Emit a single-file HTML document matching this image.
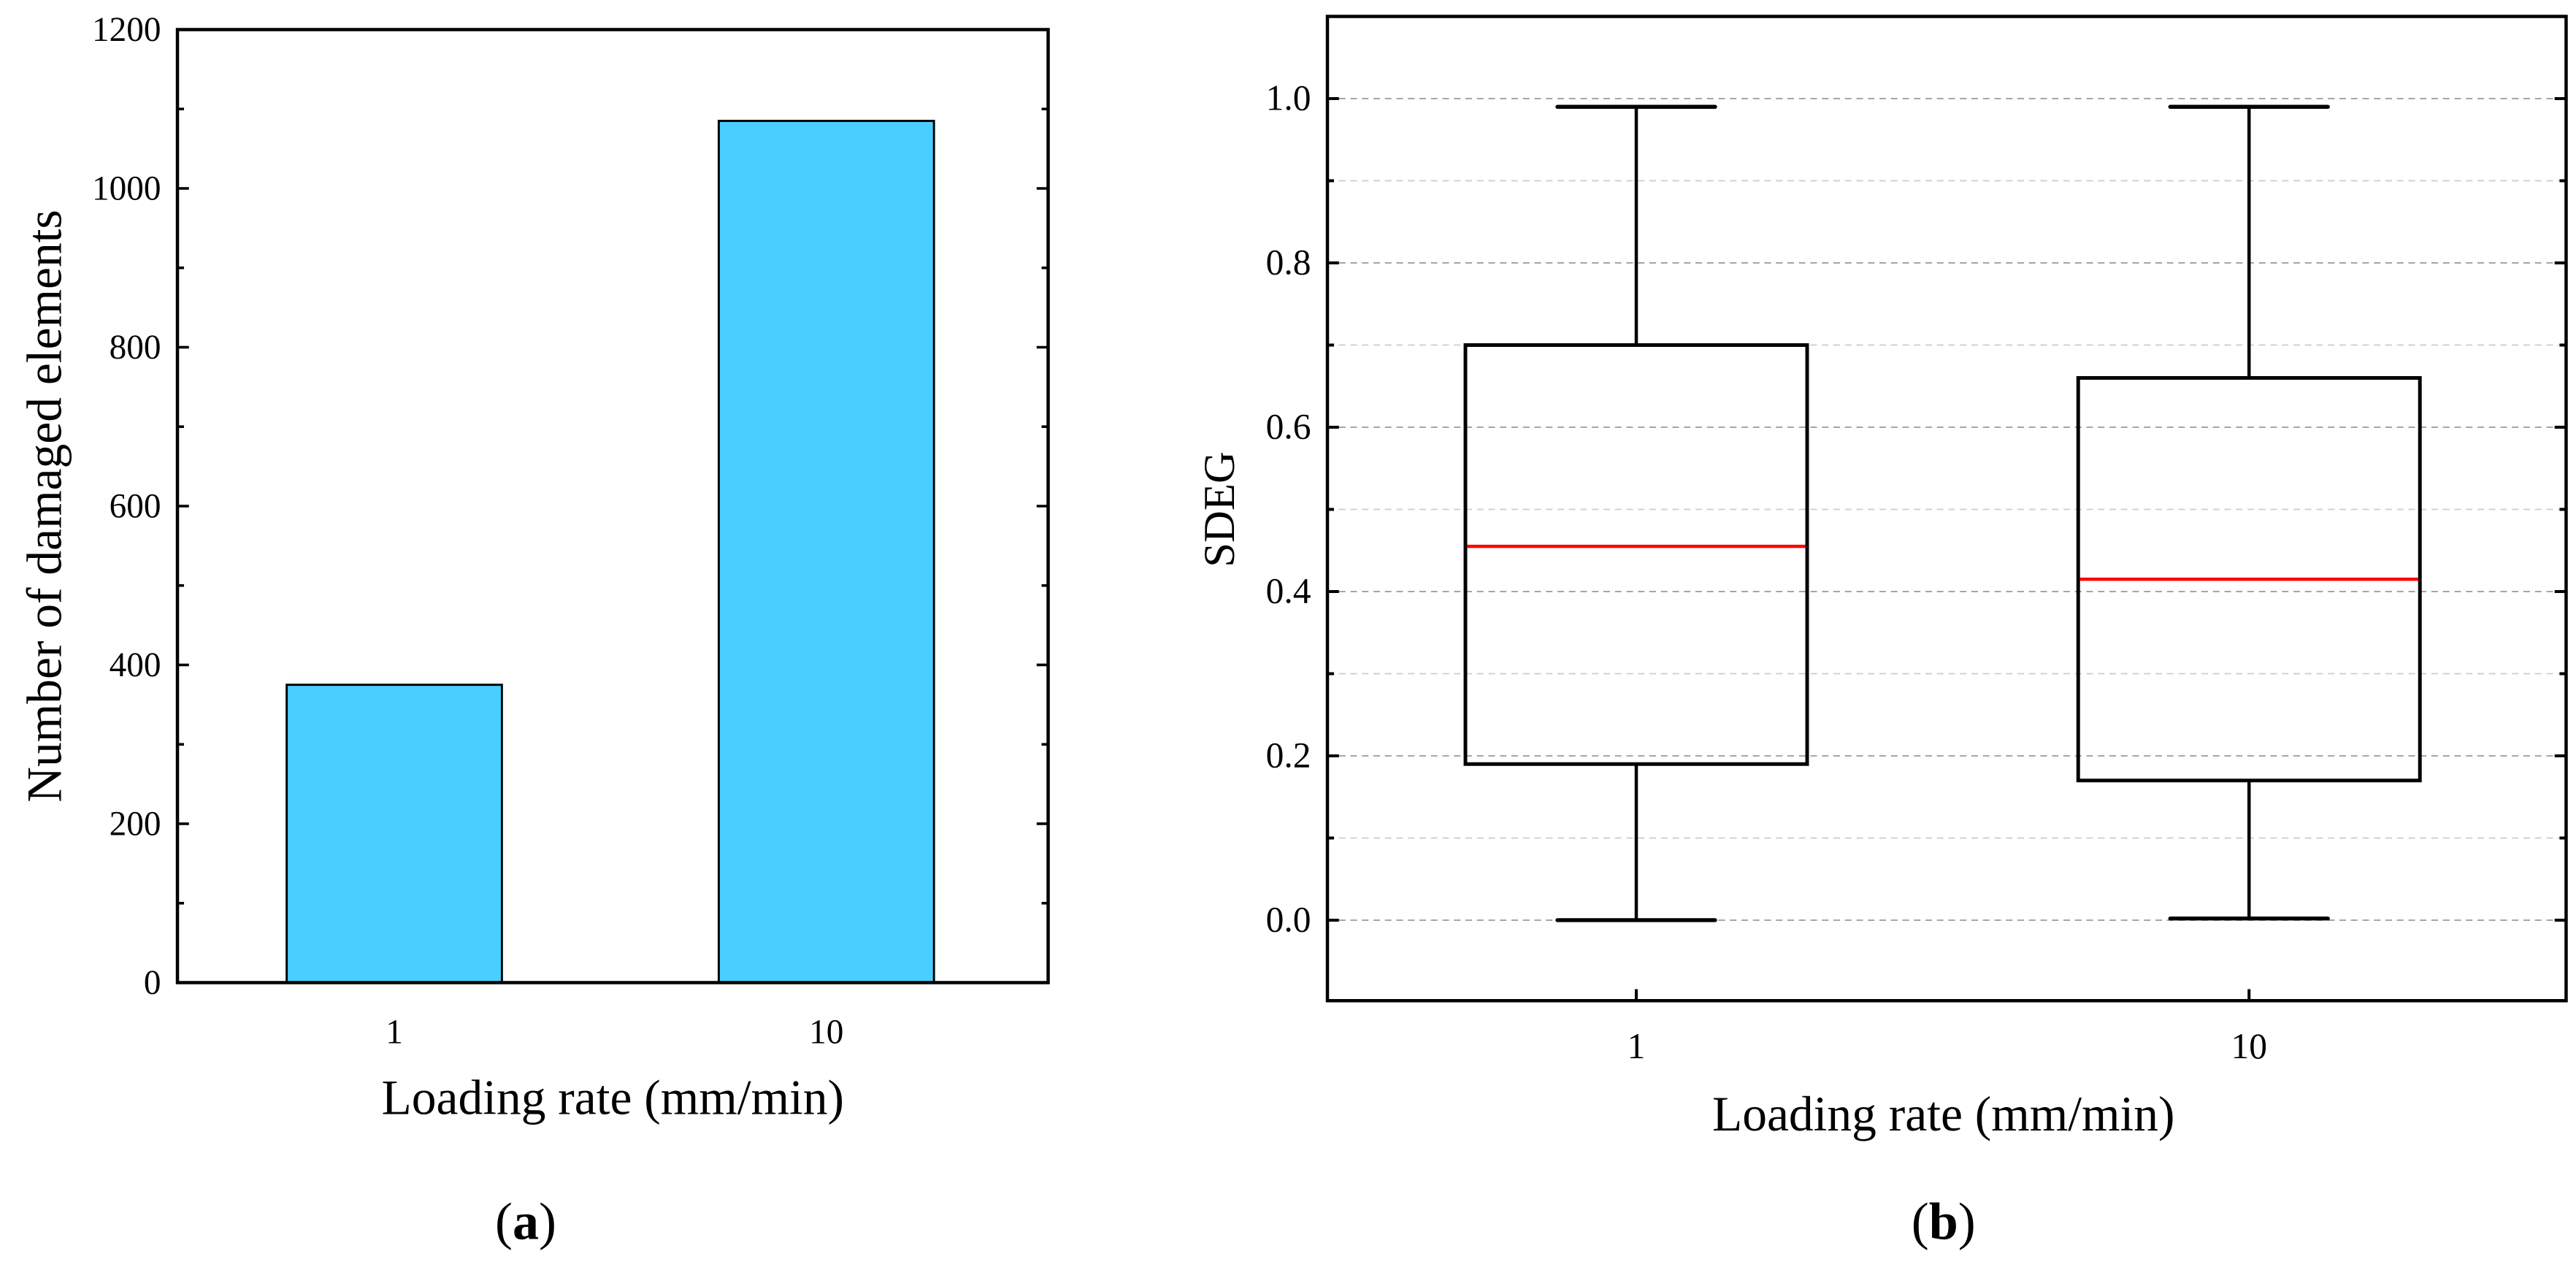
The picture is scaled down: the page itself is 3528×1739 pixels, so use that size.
<!DOCTYPE html>
<html><head><meta charset="utf-8"><style>
html,body{margin:0;padding:0;background:#fff}
svg{display:block}
text{font-family:"Liberation Serif",serif;fill:#000}
</style></head><body>
<svg id="fig" width="3528" height="1739" viewBox="0 0 1568 772.9" xmlns="http://www.w3.org/2000/svg">
<g id="a"></g>
<g id="b"></g>
</svg>
<script>
const barCategories = ["1", "10"];
const barValues = [375, 1085];
const barYTicks = [0, 200, 400, 600, 800, 1000, 1200];
const boxCategories = ["1", "10"];
const boxMin = [0.0, 0.002];
const boxQ1 = [0.19, 0.17];
const boxMedian = [0.455, 0.415];
const boxQ3 = [0.70, 0.66];
const boxMax = [0.99, 0.99];
const boxYTicks = ["0.0", "0.2", "0.4", "0.6", "0.8", "1.0"];

const NS = "http://www.w3.org/2000/svg";
function mk(parent, tag, attrs, txt) {
  const e = document.createElementNS(NS, tag);
  for (const k in attrs) e.setAttribute(k, attrs[k]);
  if (txt !== undefined) e.textContent = txt;
  parent.appendChild(e);
  return e;
}
// Panel A
const A = document.getElementById('a');
const aL = 108, aR = 638, aT = 18, aB = 598;
const ay = v => aB - (v / 1200) * (aB - aT);
const ax = i => [240, 503][i];
barValues.forEach((v, i) => {
  const r = mk(A, 'rect', {x: ax(i) - 65.5, y: ay(v), width: 131, height: aB - ay(v), fill: '#48cfff', stroke: '#000', 'stroke-width': 1.3});
  
  
});
for (let v = 0; v <= 1200; v += 100) {
  const len = v % 200 === 0 ? 7 : 4;
  mk(A, 'line', {x1: aL, x2: aL + len, y1: ay(v), y2: ay(v), stroke: '#000', 'stroke-width': 1.6});
  mk(A, 'line', {x1: aR, x2: aR - len, y1: ay(v), y2: ay(v), stroke: '#000', 'stroke-width': 1.6});
}
barYTicks.forEach(v => {
  const t = mk(A, 'text', {x: 98, y: ay(v) + 7, 'text-anchor': 'end', 'font-size': 21}, String(v));
  
  
});
barCategories.forEach((c, i) => {
  const t = mk(A, 'text', {x: ax(i), y: 635, 'text-anchor': 'middle', 'font-size': 21}, c);
  
  
});
mk(A, 'rect', {x: aL, y: aT, width: aR - aL, height: aB - aT, fill: 'none', stroke: '#000', 'stroke-width': 2});
let t1 = mk(A, 'text', {x: 373, y: 678, 'text-anchor': 'middle', 'font-size': 30}, 'Loading rate (mm/min)');


let t2 = mk(A, 'text', {x: 0, y: 0, 'text-anchor': 'middle', 'font-size': 30, transform: 'translate(37,308) rotate(-90)'}, 'Number of damaged elements');


let t3 = mk(A, 'text', {x: 320, y: 754, 'text-anchor': 'middle', 'font-size': 32}, '');
t3.innerHTML = '(<tspan font-weight="bold">a</tspan>)';



// Panel B
const B = document.getElementById('b');
const bL = 808, bR = 1562, bT = 10, bB = 609;
const by = v => 560 - v * 500;
const bx = i => [996, 1369][i];
for (let k = 0; k <= 10; k++) {
  const v = k / 10, major = k % 2 === 0;
  mk(B, 'line', {x1: bL, x2: bR, y1: by(v), y2: by(v), stroke: major ? '#999' : '#ccc', 'stroke-width': 0.8, 'stroke-dasharray': '4,3'});
  const len = major ? 7 : 4;
  mk(B, 'line', {x1: bL, x2: bL + len, y1: by(v), y2: by(v), stroke: '#000', 'stroke-width': 1.8});
  mk(B, 'line', {x1: bR, x2: bR - len, y1: by(v), y2: by(v), stroke: '#000', 'stroke-width': 1.8});
}
boxYTicks.forEach(s => {
  const t = mk(B, 'text', {x: 798, y: by(parseFloat(s)) + 7, 'text-anchor': 'end', 'font-size': 22}, s);
  
  
});
boxCategories.forEach((c, i) => {
  const x = bx(i);
  const g = mk(B, 'g', {});
  
  
  mk(g, 'line', {x1: x, x2: x, y1: by(boxMax[i]), y2: by(boxQ3[i]), stroke: '#000', 'stroke-width': 2});
  mk(g, 'line', {x1: x, x2: x, y1: by(boxQ1[i]), y2: by(boxMin[i]), stroke: '#000', 'stroke-width': 2});
  mk(g, 'line', {x1: x - 48, x2: x + 48, y1: by(boxMax[i]), y2: by(boxMax[i]), stroke: '#000', 'stroke-width': 2.4, 'stroke-linecap': 'round'});
  mk(g, 'line', {x1: x - 48, x2: x + 48, y1: by(boxMin[i]), y2: by(boxMin[i]), stroke: '#000', 'stroke-width': 2.4, 'stroke-linecap': 'round'});
  mk(g, 'rect', {x: x - 104, y: by(boxQ3[i]), width: 208, height: by(boxQ1[i]) - by(boxQ3[i]), fill: 'none', stroke: '#000', 'stroke-width': 2.2});
  mk(g, 'line', {x1: x - 103, x2: x + 103, y1: by(boxMedian[i]), y2: by(boxMedian[i]), stroke: '#f00', 'stroke-width': 2});
  mk(B, 'line', {x1: x, x2: x, y1: bB, y2: bB - 7, stroke: '#000', 'stroke-width': 1.8});
  const t = mk(B, 'text', {x: x, y: 644, 'text-anchor': 'middle', 'font-size': 22}, c);
  
  
});
mk(B, 'rect', {x: bL, y: bT, width: bR - bL, height: bB - bT, fill: 'none', stroke: '#000', 'stroke-width': 2});
let u1 = mk(B, 'text', {x: 1183, y: 688, 'text-anchor': 'middle', 'font-size': 30}, 'Loading rate (mm/min)');


let u2 = mk(B, 'text', {x: 0, y: 0, 'text-anchor': 'middle', 'font-size': 27, transform: 'translate(751,310) rotate(-90)'}, 'SDEG');


let u3 = mk(B, 'text', {x: 1183, y: 754, 'text-anchor': 'middle', 'font-size': 32}, '');
u3.innerHTML = '(<tspan font-weight="bold">b</tspan>)';


</script>
</body></html>
